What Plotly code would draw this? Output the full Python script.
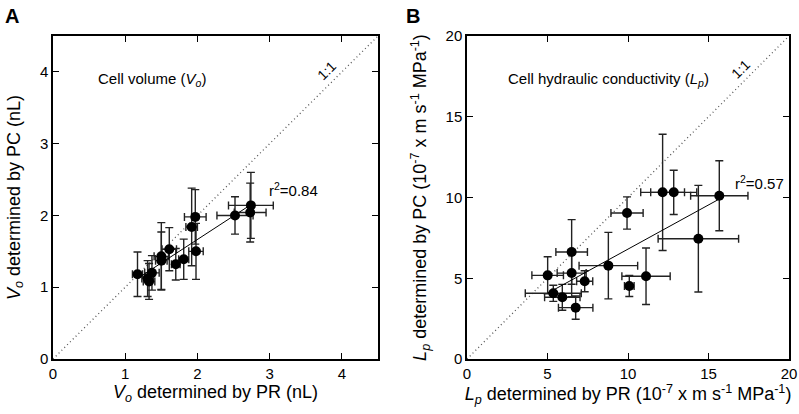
import numpy as np
import plotly.graph_objects as go

# Panel A: cell volume (nL)
a_pr = [1.17, 1.31, 1.33, 1.37, 1.50, 1.50, 1.61, 1.70, 1.81, 1.92, 1.97, 1.98, 2.52, 2.74, 2.73]
a_pc = [1.18, 1.12, 1.08, 1.20, 1.43, 1.37, 1.53, 1.32, 1.39, 1.84, 1.98, 1.50, 2.00, 2.14, 2.04]
a_pr_err = [0.07, 0.08, 0.08, 0.10, 0.10, 0.08, 0.10, 0.06, 0.07, 0.08, 0.15, 0.10, 0.25, 0.31, 0.22]
a_pc_err = [0.31, 0.25, 0.25, 0.24, 0.47, 0.40, 0.30, 0.22, 0.28, 0.54, 0.38, 0.39, 0.26, 0.46, 0.41]

# Panel B: hydraulic conductivity (1e-7 m s-1 MPa-1)
b_pr = [12.15, 12.84, 15.67, 9.94, 14.37, 6.50, 8.78, 5.01, 6.50, 7.31, 11.12, 10.08, 5.36, 5.92, 6.75]
b_pc = [10.32, 10.32, 10.11, 9.04, 7.45, 6.63, 5.78, 5.18, 5.32, 4.81, 5.12, 4.52, 4.07, 3.82, 3.18]
b_pr_err = [1.36, 1.43, 1.78, 1.00, 2.50, 0.98, 1.82, 0.98, 0.90, 0.50, 1.50, 0.30, 1.74, 1.10, 1.07]
b_pc_err = [3.60, 1.37, 2.17, 1.00, 3.30, 2.00, 2.06, 1.15, 1.46, 0.65, 1.75, 0.65, 0.50, 0.80, 0.72]

a_ticks = [0, 1, 2, 3, 4]
b_ticks = [0, 5, 10, 15, 20]

FONT = "Liberation Sans, Arial, sans-serif"
W, H = 799, 414
ML, MR, MT, MB = 53, 10, 36, 55
PW, PH = W - ML - MR, H - MT - MB

def px_x(p):
    return (p - ML) / PW

def px_y(p):
    return (H - MB - p) / PH

fig = go.Figure()

def add_panel(xs, ys, ex, ey, xaxis, yaxis, lim):
    fig.add_trace(go.Scatter(x=[0, lim], y=[0, lim], mode="lines",
                             line=dict(color="#555", width=1.3, dash="1px,3px"),
                             xaxis=xaxis, yaxis=yaxis, showlegend=False, hoverinfo="skip"))
    fig.add_trace(go.Scatter(x=xs, y=ys, mode="markers",
                             marker=dict(color="black", size=10),
                             error_x=dict(type="data", array=ex, color="#222", thickness=1.4, width=4),
                             error_y=dict(type="data", array=ey, color="#222", thickness=1.4, width=4),
                             xaxis=xaxis, yaxis=yaxis, showlegend=False))
    k, b = np.polyfit(xs, ys, 1)
    x0, x1 = min(xs), max(xs)
    fig.add_trace(go.Scatter(x=[x0, x1], y=[k * x0 + b, k * x1 + b], mode="lines",
                             line=dict(color="black", width=1),
                             xaxis=xaxis, yaxis=yaxis, showlegend=False, hoverinfo="skip"))

add_panel(a_pr, a_pc, a_pr_err, a_pc_err, "x", "y", 4.5)
add_panel(b_pr, b_pc, b_pr_err, b_pc_err, "x2", "y2", 20)

ax_common = dict(showline=True, linecolor="black", linewidth=1.5, mirror="ticks",
                 ticks="inside", ticklen=6, tickcolor="black", tickwidth=1.2,
                 showgrid=False, zeroline=False, tickfont=dict(size=15, color="black"),
                 title_font=dict(size=18, color="black"), automargin=False,
                 ticklabeloverflow="allow")

fig.update_layout(
    width=W, height=H, margin=dict(l=ML, r=MR, t=MT, b=MB),
    plot_bgcolor="white", paper_bgcolor="white",
    font=dict(family=FONT, color="black"),
    xaxis=dict(domain=[0, px_x(378)], range=[0, 4.5], tickvals=a_ticks,
               title=dict(text="<i>V<sub>o</sub></i> determined by PR (nL)", standoff=4), **ax_common),
    yaxis=dict(domain=[0, 1], range=[0, 4.5], tickvals=a_ticks,
               title=dict(text="<i>V<sub>o</sub></i> determined by PC (nL)", standoff=15), **ax_common),
    xaxis2=dict(domain=[px_x(467), 1], range=[0, 20], tickvals=b_ticks, anchor="y2",
                title=dict(text="<i>L<sub>p</sub></i> determined by PR (10<sup>-7</sup> x m s<sup>-1</sup> MPa<sup>-1</sup>)", standoff=4),
                **ax_common),
    yaxis2=dict(domain=[0, 1], range=[0, 20], tickvals=b_ticks, anchor="x2",
                title=dict(text="<i>L<sub>p</sub></i> determined by PC (10<sup>-7</sup> x m s<sup>-1</sup> MPa<sup>-1</sup>)", standoff=14),
                **ax_common),
)

ann = [
    dict(text="<b>A</b>", x=px_x(3), y=px_y(3), xref="paper", yref="paper", xanchor="left", yanchor="top",
         showarrow=False, font=dict(size=20)),
    dict(text="<b>B</b>", x=px_x(404), y=px_y(3), xref="paper", yref="paper", xanchor="left", yanchor="top",
         showarrow=False, font=dict(size=20)),
    dict(text="Cell volume (<i>V<sub>o</sub></i>)", x=0.6, y=3.89, xref="x", yref="y", xanchor="left",
         showarrow=False, font=dict(size=15)),
    dict(text="1:1", x=3.8, y=4.02, xref="x", yref="y", textangle=-45, showarrow=False, font=dict(size=14)),
    dict(text="r<sup>2</sup>=0.84", x=2.96, y=2.36, xref="x", yref="y", xanchor="left",
         showarrow=False, font=dict(size=15)),
    dict(text="Cell hydraulic conductivity (<i>L<sub>p</sub></i>)", x=2.42, y=17.3, xref="x2", yref="y2",
         xanchor="left", showarrow=False, font=dict(size=15)),
    dict(text="1:1", x=17.0, y=17.95, xref="x2", yref="y2", textangle=-45, showarrow=False, font=dict(size=14)),
    dict(text="r<sup>2</sup>=0.57", x=16.55, y=10.9, xref="x2", yref="y2", xanchor="left",
         showarrow=False, font=dict(size=15)),
]
fig.update_layout(annotations=ann)

fig.write_html("out.html", config={"displayModeBar": False},
               post_script="document.body.style.margin='0';document.body.style.overflow='hidden';")
